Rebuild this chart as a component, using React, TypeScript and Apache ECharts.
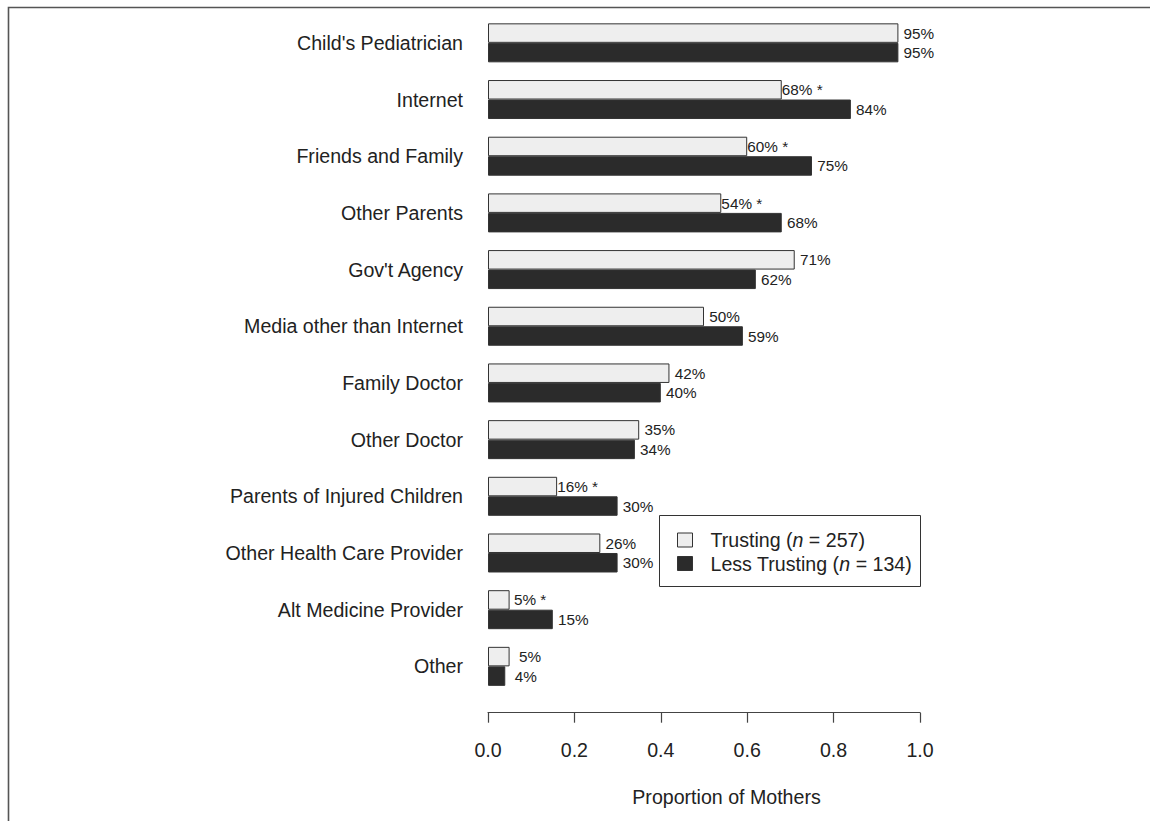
import React, { useEffect, useRef } from "react";
import * as echarts from "echarts";

const categories = [
  "Child's Pediatrician",
  "Internet",
  "Friends and Family",
  "Other Parents",
  "Gov't Agency",
  "Media other than Internet",
  "Family Doctor",
  "Other Doctor",
  "Parents of Injured Children",
  "Other Health Care Provider",
  "Alt Medicine Provider",
  "Other",
];
const trusting = [0.95, 0.68, 0.6, 0.54, 0.71, 0.5, 0.42, 0.35, 0.16, 0.26, 0.05, 0.05];
const lessTrusting = [0.95, 0.84, 0.75, 0.68, 0.62, 0.59, 0.4, 0.34, 0.3, 0.3, 0.15, 0.04];
const significant = [false, true, true, true, false, false, false, false, true, false, true, false];
const xTicks = [0, 0.2, 0.4, 0.6, 0.8, 1.0];

const FONT = "'Liberation Sans', Arial, Helvetica, sans-serif";
const TEXT = "#222";
const BIG = 19.6;

export default function App() {
  const ref = useRef<HTMLDivElement>(null);
  useEffect(() => {
    if (!ref.current) return;
    const chart = echarts.init(ref.current, null, { renderer: "svg" });
    const labelBase = {
      show: true,
      position: "right",
      distance: 20.5,
      align: "center",
      fontSize: 15.3,
      fontFamily: FONT,
      color: TEXT,
    };
    chart.setOption({
      animation: false,
      backgroundColor: "#fff",
      textStyle: { fontFamily: FONT },
      grid: { left: 488, right: 230, top: 14.5, bottom: 126.3, containLabel: false },
      xAxis: {
        type: "value",
        min: xTicks[0],
        max: xTicks[xTicks.length - 1],
        interval: 0.2,
        offset: 18,
        axisLine: { show: true, lineStyle: { color: "#444", width: 1.2 } },
        axisTick: { show: true, length: 10, lineStyle: { color: "#444", width: 1.2 } },
        splitLine: { show: false },
        axisLabel: {
          margin: 27,
          fontSize: BIG,
          color: TEXT,
          fontFamily: FONT,
          formatter: (v: number) => v.toFixed(1),
        },
      },
      yAxis: {
        type: "category",
        data: categories,
        inverse: true,
        axisLine: { show: false },
        axisTick: { show: false },
        axisLabel: { margin: 25, fontSize: BIG, color: TEXT, fontFamily: FONT },
      },
      legend: {
        show: true,
        orient: "vertical",
        left: 677,
        top: 530,
        padding: 0,
        itemWidth: 15,
        itemHeight: 14,
        itemGap: 3.5,
        icon: "rect",
        selectedMode: false,
        data: [
          { name: "Trusting", itemStyle: { color: "#eeeeee", borderColor: "#333", borderWidth: 1 } },
          { name: "Less Trusting", itemStyle: { color: "#2b2b2b", borderColor: "#333", borderWidth: 1 } },
        ],
        formatter: (name: string) =>
          name === "Trusting"
            ? "{a|Trusting (}{i|n}{a| = 257)}"
            : "{a|Less Trusting (}{i|n}{a| = 134)}",
        textStyle: {
          padding: [0, 0, 0, 13],
          rich: {
            a: { fontSize: BIG, fontFamily: FONT, color: TEXT, lineHeight: 20 },
            i: { fontSize: BIG, fontFamily: FONT, color: TEXT, fontStyle: "italic", lineHeight: 20 },
          },
        },
      },
      graphic: [
        {
          type: "polyline",
          shape: { points: [[8.5, 821], [8.5, 7.5], [1150, 7.5]] },
          style: { stroke: "#555", lineWidth: 1.6, fill: "none" },
          silent: true,
        },
        {
          type: "rect",
          shape: { x: 659.5, y: 515.5, width: 261, height: 71 },
          style: { stroke: "#333", lineWidth: 1, fill: "#fff" },
          z: -1,
          silent: true,
        },
        {
          type: "text",
          x: 726.5,
          y: 797,
          style: {
            text: "Proportion of Mothers",
            fontSize: BIG,
            fontFamily: FONT,
            fill: TEXT,
            align: "center",
            verticalAlign: "middle",
          },
          silent: true,
        },
      ],
      series: [
        {
          name: "Trusting",
          type: "bar",
          data: trusting,
          barWidth: 19.5,
          barGap: "0%",
          itemStyle: { color: "#eeeeee", borderColor: "#333", borderWidth: 1 },
          label: {
            ...labelBase,
            formatter: (p: any) =>
              Math.round(p.value * 100) + "%" + (significant[p.dataIndex] ? " *" : ""),
          },
        },
        {
          name: "Less Trusting",
          type: "bar",
          data: lessTrusting,
          barWidth: 19.5,
          barGap: "0%",
          itemStyle: { color: "#2b2b2b", borderColor: "#333", borderWidth: 1 },
          label: {
            ...labelBase,
            formatter: (p: any) => Math.round(p.value * 100) + "%",
          },
        },
      ],
    });
    return () => chart.dispose();
  }, []);
  return (
    <div
      ref={ref}
      style={{ position: "fixed", left: 0, top: 0, width: 1150, height: 821 }}
    />
  );
}
